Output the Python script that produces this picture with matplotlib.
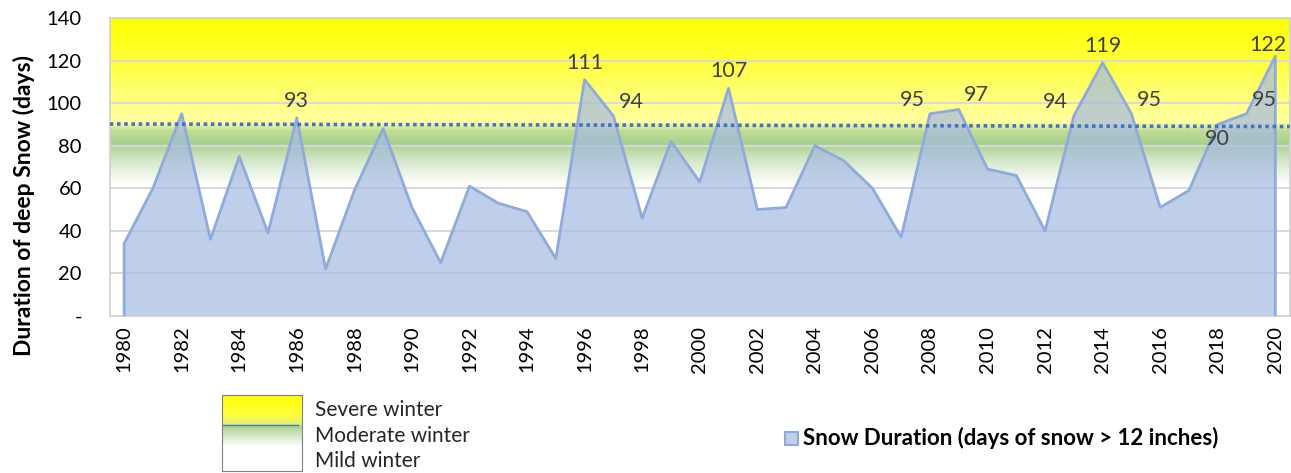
"""Deep snow duration per winter, 1980-2020, over a severe/moderate/mild background."""

import numpy as np
import matplotlib.pyplot as plt
from matplotlib.patches import Rectangle

plt.rcParams['font.family'] = ['Lato', 'DejaVu Sans']

years = list(range(1980, 2021))
snow_days = [34, 60, 95, 36, 75, 39, 93, 22, 59, 88,
             51, 25, 61, 53, 49, 27, 111, 94, 46, 82,
             63, 107, 50, 51, 80, 73, 60, 37, 95, 97,
             69, 66, 40, 94, 119, 95, 51, 59, 90, 95,
             122]
trend_ends = [90.2, 89.0]

# which points get a number, and where it sits relative to the point
labelled = {1986: 'above', 1996: 'above', 1997: 'right', 2001: 'above',
            2008: 'left', 2009: 'right', 2013: 'left', 2014: 'above',
            2015: 'right', 2018: 'below', 2019: 'right', 2020: 'edge'}

y_ticks = [0, 20, 40, 60, 80, 100, 120, 140]
y_tick_labels = ['-', '20', '40', '60', '80', '100', '120', '140']

LINE = '#8FAADC'
FILL = '#A5BAE1'
TXT = '#404040'

# background colour stops (value, rgb)
bg_stops = [(0, (255, 255, 255)), (62, (255, 255, 255)), (74, (208, 230, 195)),
            (81, (169, 209, 142)), (87, (190, 220, 150)), (91, (255, 255, 160)),
            (100, (255, 255, 135)), (122, (255, 255, 50)), (140, (255, 255, 0))]


def gradient(stops, n=400):
    v = np.linspace(stops[0][0], stops[-1][0], n)
    xs = [s[0] for s in stops]
    rgb = np.stack([np.interp(v, xs, [s[1][i] for s in stops]) for i in range(3)], axis=1) / 255
    return rgb[:, None, :]


fig = plt.figure(figsize=(12.91, 4.73), dpi=100)
ax = fig.add_axes([0.085, 0.332, 0.914, 0.63])

x0, x1 = years[0] - 0.5, years[-1] + 0.5
ax.imshow(gradient(bg_stops), extent=[x0, x1, 0, 140], origin='lower',
          aspect='auto', zorder=0)

for t in y_ticks[1:-1]:
    ax.axhline(t, color='#D9D9D9', lw=1.4, zorder=1)

ax.fill_between(years, snow_days, 0, color=FILL, alpha=0.7, lw=0, zorder=2)
ax.plot([years[0]] + years + [years[-1]], [0] + snow_days + [0],
        color=LINE, lw=2, zorder=3)

ax.plot([x0, x1], trend_ends, color='#4472C4', lw=2.6, ls=(0, (1, 1)), zorder=4)

offsets = {'above': (0, 5, 'center', 'bottom'), 'right': (4, 3, 'left', 'bottom'),
           'left': (-4, 3, 'right', 'bottom'), 'below': (0, -3, 'center', 'top'),
           'edge': (8, 1, 'right', 'bottom')}
for yr, pos in labelled.items():
    v = snow_days[years.index(yr)]
    dx, dy, ha, va = offsets[pos]
    ax.annotate(str(v), (yr, v), xytext=(dx, dy), textcoords='offset points',
                ha=ha, va=va, fontsize=15.5, color=TXT, zorder=5)

ax.set_xlim(x0, x1)
ax.set_ylim(0, 140)
ax.set_yticks(y_ticks)
ax.set_yticklabels(y_tick_labels)
ax.set_xticks(years[::2])
ax.set_xticklabels([str(y) for y in years[::2]], rotation=90)
ax.tick_params(length=0, labelsize=14.5, colors='black')
ax.tick_params(axis='y', pad=20)
ax.tick_params(axis='x', pad=7)
for s in ax.spines.values():
    s.set_color('#D0D0D0')
    s.set_linewidth(1.2)
ax.set_ylabel('Duration of deep Snow (days)', fontsize=16.5, fontweight='bold')
ax.yaxis.set_label_coords(-0.063, 0.37)

# winter-type legend box
lax = fig.add_axes([222 / 1291, 2 / 473, 80 / 1291, 76 / 473])
box_stops = [(0, (255, 255, 255)), (0.32, (255, 255, 255)), (0.5, (200, 226, 185)),
             (0.58, (169, 209, 142)), (0.62, (230, 240, 120)), (0.75, (255, 255, 60)),
             (1.0, (255, 255, 0))]
lax.imshow(gradient(box_stops), extent=[0, 1, 0, 1], origin='lower', aspect='auto')
lax.plot([0, 0.95], [0.6, 0.6], color='#4472C4', lw=1)
lax.set_xlim(0, 1)
lax.set_ylim(0, 1)
lax.set_xticks([])
lax.set_yticks([])
for s in lax.spines.values():
    s.set_color('#808080')

for txt, ypix in [('Severe winter', 410), ('Moderate winter', 436), ('Mild winter', 461)]:
    fig.text(315 / 1291, 1 - ypix / 473, txt, fontsize=15, color='#262626', va='center')

fig.patches.append(Rectangle((785 / 1291, 1 - 445 / 473), 13 / 1291, 13 / 473,
                             transform=fig.transFigure, facecolor='#C0CFEA',
                             edgecolor=LINE, lw=1.5))
fig.text(803 / 1291, 1 - 438 / 473, 'Snow Duration (days of snow > 12 inches)',
         fontsize=16, fontweight='bold', color='black', va='center')

fig.savefig('out.png', dpi=100)
